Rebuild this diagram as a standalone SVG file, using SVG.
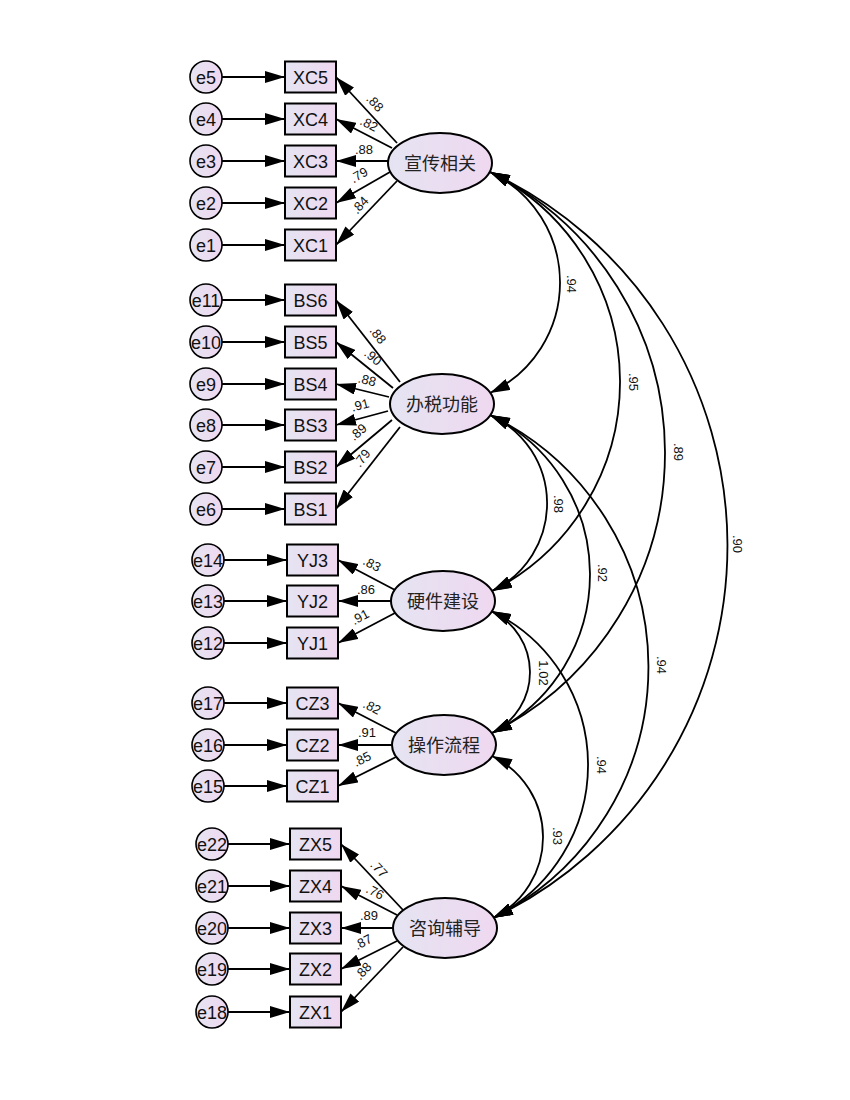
<svg xmlns="http://www.w3.org/2000/svg" width="850" height="1100" viewBox="0 0 850 1100">
<defs>
<linearGradient id="g" x1="0" y1="0" x2="1" y2="0">
<stop offset="0" stop-color="#e5e4f2"/>
<stop offset="1" stop-color="#efd8f0"/>
</linearGradient>
<marker id="ah" markerUnits="userSpaceOnUse" viewBox="0 0 20 12" markerWidth="20" markerHeight="12" refX="20" refY="6" orient="auto-start-reverse">
<path d="M0,0 L20,6 L0,12 z" fill="#000"/>
</marker>
<style>
.e{fill:url(#g);stroke:#000;stroke-width:1.6}
.b{fill:url(#g);stroke:#000;stroke-width:2}
.l{fill:url(#g);stroke:#000;stroke-width:2}
.t{font-family:"Liberation Sans",Arial,sans-serif;font-size:18px;text-anchor:middle;fill:#111}
.c{font-family:"Noto Sans CJK SC",sans-serif;font-size:18px;text-anchor:middle;fill:#222}
.n{font-family:"Liberation Sans",Arial,sans-serif;font-size:13px;text-anchor:middle;fill:#111}
.a{stroke:#000;stroke-width:1.8;fill:none;marker-end:url(#ah)}
.v{stroke:#000;stroke-width:1.8;fill:none;marker-start:url(#ah);marker-end:url(#ah)}
</style>
</defs>
<rect width="850" height="1100" fill="#fff"/>

<g id="connectors">
<!-- error arrows -->
<path class="a" d="M222,77H285"/><path class="a" d="M222,119H285"/><path class="a" d="M222,161H285"/><path class="a" d="M222,203H285"/><path class="a" d="M222,245H285"/>
<path class="a" d="M222,300H285"/><path class="a" d="M222,342H285"/><path class="a" d="M222,384H285"/><path class="a" d="M222,425H285"/><path class="a" d="M222,467H285"/><path class="a" d="M222,509H285"/>
<path class="a" d="M223,560H287"/><path class="a" d="M223,601H287"/><path class="a" d="M223,643H287"/>
<path class="a" d="M223,703H287"/><path class="a" d="M223,745H287"/><path class="a" d="M223,786H287"/>
<path class="a" d="M228,844H290"/><path class="a" d="M228,886H290"/><path class="a" d="M228,928H290"/><path class="a" d="M228,969H290"/><path class="a" d="M228,1012H290"/>
<!-- loadings -->
<path class="a" d="M397,143L336,77"/><path class="a" d="M392,148L336,119"/><path class="a" d="M388,161L336,161"/><path class="a" d="M390,172L336,203"/><path class="a" d="M397,181L336,245"/>
<path class="a" d="M400,382L336,300"/><path class="a" d="M393,388L336,342"/><path class="a" d="M389,397L336,384"/><path class="a" d="M388,411L336,425"/><path class="a" d="M392,420L336,467"/><path class="a" d="M400,427L336,509"/>
<path class="a" d="M395,590L338,560"/><path class="a" d="M392,601L338,601"/><path class="a" d="M395,613L338,643"/>
<path class="a" d="M396,733L338,703"/><path class="a" d="M392,745L338,745"/><path class="a" d="M396,757L338,786"/>
<path class="a" d="M403,910L341,844"/><path class="a" d="M397,915L341,886"/><path class="a" d="M393,928L341,928"/><path class="a" d="M397,941L341,969"/><path class="a" d="M403,947L341,1012"/>
<!-- covariances -->
<path class="v" d="M490,172A122.2,122.2 0 0 1 490,393"/>
<path class="v" d="M490,172A234.6,234.6 0 0 1 492,591"/>
<path class="v" d="M490,172A313.1,313.1 0 0 1 492,733"/>
<path class="v" d="M490,172A412.8,412.8 0 0 1 493,918"/>
<path class="v" d="M490,415A97.1,97.1 0 0 1 492,591"/>
<path class="v" d="M490,415A177.2,177.2 0 0 1 492,733"/>
<path class="v" d="M490,415A280,280 0 0 1 493,918"/>
<path class="v" d="M491,611A67.6,67.6 0 0 1 492,733"/>
<path class="v" d="M491,611A170.7,170.7 0 0 1 493,918"/>
<path class="v" d="M492,756A90.2,90.2 0 0 1 493,918"/>
<!-- loading labels -->
<text class="n" transform="translate(375,103) rotate(47)" y="4.5">.88</text>
<text class="n" transform="translate(369,124) rotate(27)" y="4.5">.82</text>
<text class="n" transform="translate(364,149)" y="4.5">.88</text>
<text class="n" transform="translate(359,175) rotate(-30)" y="4.5">.79</text>
<text class="n" transform="translate(360,205) rotate(-47)" y="4.5">.84</text>
<text class="n" transform="translate(378,335) rotate(52)" y="4.5">.88</text>
<text class="n" transform="translate(373,357) rotate(39)" y="4.5">.90</text>
<text class="n" transform="translate(367,380) rotate(14)" y="4.5">.88</text>
<text class="n" transform="translate(360,405) rotate(-15)" y="4.5">.91</text>
<text class="n" transform="translate(358,432) rotate(-40)" y="4.5">.89</text>
<text class="n" transform="translate(362,458) rotate(-52)" y="4.5">.79</text>
<text class="n" transform="translate(372,564) rotate(28)" y="4.5">.83</text>
<text class="n" transform="translate(366,589)" y="4.5">.86</text>
<text class="n" transform="translate(360,617) rotate(-28)" y="4.5">.91</text>
<text class="n" transform="translate(372,707) rotate(27)" y="4.5">.82</text>
<text class="n" transform="translate(367,732)" y="4.5">.91</text>
<text class="n" transform="translate(362,759) rotate(-27)" y="4.5">.85</text>
<text class="n" transform="translate(379,869) rotate(47)" y="4.5">.77</text>
<text class="n" transform="translate(375,892) rotate(27)" y="4.5">.76</text>
<text class="n" transform="translate(369,915)" y="4.5">.89</text>
<text class="n" transform="translate(363,942) rotate(-28)" y="4.5">.87</text>
<text class="n" transform="translate(363,971) rotate(-47)" y="4.5">.88</text>
<!-- covariance labels -->
<text class="n" transform="translate(571,284) rotate(90)" y="4.5">.94</text>
<text class="n" transform="translate(633,382) rotate(90)" y="4.5">.95</text>
<text class="n" transform="translate(678,452) rotate(90)" y="4.5">.89</text>
<text class="n" transform="translate(737,544) rotate(90)" y="4.5">.90</text>
<text class="n" transform="translate(558,504) rotate(90)" y="4.5">.98</text>
<text class="n" transform="translate(602,573) rotate(90)" y="4.5">.92</text>
<text class="n" transform="translate(661,665) rotate(90)" y="4.5">.94</text>
<text class="n" transform="translate(543,673) rotate(90)" y="4.5">1.02</text>
<text class="n" transform="translate(601,765) rotate(90)" y="4.5">.94</text>
<text class="n" transform="translate(557,836) rotate(90)" y="4.5">.93</text>
</g>

<!-- latent variables -->
<g id="F_xc"><ellipse class="l" cx="440" cy="163" rx="52" ry="30"/><text class="c" x="440" y="169.5">宣传相关</text></g>
<g id="F_bs"><ellipse class="l" cx="442" cy="404" rx="52" ry="30"/><text class="c" x="442" y="410.5">办税功能</text></g>
<g id="F_yj"><ellipse class="l" cx="443" cy="601" rx="52" ry="30"/><text class="c" x="443" y="607.5">硬件建设</text></g>
<g id="F_cz"><ellipse class="l" cx="444" cy="745" rx="52" ry="30"/><text class="c" x="444" y="751.5">操作流程</text></g>
<g id="F_zx"><ellipse class="l" cx="445" cy="928" rx="52" ry="30"/><text class="c" x="445" y="934.5">咨询辅导</text></g>

<!-- observed -->
<g id="XC5"><rect class="b" x="285" y="61.5" width="51" height="31"/><text class="t" x="310.5" y="83.5">XC5</text></g>
<g id="XC4"><rect class="b" x="285" y="103.5" width="51" height="31"/><text class="t" x="310.5" y="125.5">XC4</text></g>
<g id="XC3"><rect class="b" x="285" y="145.5" width="51" height="31"/><text class="t" x="310.5" y="167.5">XC3</text></g>
<g id="XC2"><rect class="b" x="285" y="187.5" width="51" height="31"/><text class="t" x="310.5" y="209.5">XC2</text></g>
<g id="XC1"><rect class="b" x="285" y="229.5" width="51" height="31"/><text class="t" x="310.5" y="251.5">XC1</text></g>
<g id="BS6"><rect class="b" x="285" y="284.5" width="51" height="31"/><text class="t" x="310.5" y="306.5">BS6</text></g>
<g id="BS5"><rect class="b" x="285" y="326.5" width="51" height="31"/><text class="t" x="310.5" y="348.5">BS5</text></g>
<g id="BS4"><rect class="b" x="285" y="368.5" width="51" height="31"/><text class="t" x="310.5" y="390.5">BS4</text></g>
<g id="BS3"><rect class="b" x="285" y="409.5" width="51" height="31"/><text class="t" x="310.5" y="431.5">BS3</text></g>
<g id="BS2"><rect class="b" x="285" y="451.5" width="51" height="31"/><text class="t" x="310.5" y="473.5">BS2</text></g>
<g id="BS1"><rect class="b" x="285" y="493.5" width="51" height="31"/><text class="t" x="310.5" y="515.5">BS1</text></g>
<g id="YJ3"><rect class="b" x="287" y="544.5" width="51" height="31"/><text class="t" x="312.5" y="566.5">YJ3</text></g>
<g id="YJ2"><rect class="b" x="287" y="585.5" width="51" height="31"/><text class="t" x="312.5" y="607.5">YJ2</text></g>
<g id="YJ1"><rect class="b" x="287" y="627.5" width="51" height="31"/><text class="t" x="312.5" y="649.5">YJ1</text></g>
<g id="CZ3"><rect class="b" x="287" y="687.5" width="51" height="31"/><text class="t" x="312.5" y="709.5">CZ3</text></g>
<g id="CZ2"><rect class="b" x="287" y="729.5" width="51" height="31"/><text class="t" x="312.5" y="751.5">CZ2</text></g>
<g id="CZ1"><rect class="b" x="287" y="770.5" width="51" height="31"/><text class="t" x="312.5" y="792.5">CZ1</text></g>
<g id="ZX5"><rect class="b" x="290" y="828.5" width="51" height="31"/><text class="t" x="315.5" y="850.5">ZX5</text></g>
<g id="ZX4"><rect class="b" x="290" y="870.5" width="51" height="31"/><text class="t" x="315.5" y="892.5">ZX4</text></g>
<g id="ZX3"><rect class="b" x="290" y="912.5" width="51" height="31"/><text class="t" x="315.5" y="934.5">ZX3</text></g>
<g id="ZX2"><rect class="b" x="290" y="953.5" width="51" height="31"/><text class="t" x="315.5" y="975.5">ZX2</text></g>
<g id="ZX1"><rect class="b" x="290" y="996.5" width="51" height="31"/><text class="t" x="315.5" y="1018.5">ZX1</text></g>

<!-- errors -->
<g id="e5"><circle class="e" cx="206" cy="77" r="16"/><text class="t" x="206" y="83.5">e5</text></g>
<g id="e4"><circle class="e" cx="206" cy="119" r="16"/><text class="t" x="206" y="125.5">e4</text></g>
<g id="e3"><circle class="e" cx="206" cy="161" r="16"/><text class="t" x="206" y="167.5">e3</text></g>
<g id="e2"><circle class="e" cx="206" cy="203" r="16"/><text class="t" x="206" y="209.5">e2</text></g>
<g id="e1"><circle class="e" cx="206" cy="245" r="16"/><text class="t" x="206" y="251.5">e1</text></g>
<g id="e11"><circle class="e" cx="206" cy="300" r="16"/><text class="t" x="206" y="306.5">e11</text></g>
<g id="e10"><circle class="e" cx="206" cy="342" r="16"/><text class="t" x="206" y="348.5">e10</text></g>
<g id="e9"><circle class="e" cx="206" cy="384" r="16"/><text class="t" x="206" y="390.5">e9</text></g>
<g id="e8"><circle class="e" cx="206" cy="425" r="16"/><text class="t" x="206" y="431.5">e8</text></g>
<g id="e7"><circle class="e" cx="206" cy="467" r="16"/><text class="t" x="206" y="473.5">e7</text></g>
<g id="e6"><circle class="e" cx="206" cy="509" r="16"/><text class="t" x="206" y="515.5">e6</text></g>
<g id="e14"><circle class="e" cx="208" cy="560" r="16"/><text class="t" x="208" y="566.5">e14</text></g>
<g id="e13"><circle class="e" cx="208" cy="601" r="16"/><text class="t" x="208" y="607.5">e13</text></g>
<g id="e12"><circle class="e" cx="208" cy="643" r="16"/><text class="t" x="208" y="649.5">e12</text></g>
<g id="e17"><circle class="e" cx="208" cy="703" r="16"/><text class="t" x="208" y="709.5">e17</text></g>
<g id="e16"><circle class="e" cx="208" cy="745" r="16"/><text class="t" x="208" y="751.5">e16</text></g>
<g id="e15"><circle class="e" cx="208" cy="786" r="16"/><text class="t" x="208" y="792.5">e15</text></g>
<g id="e22"><circle class="e" cx="212" cy="844" r="16"/><text class="t" x="212" y="850.5">e22</text></g>
<g id="e21"><circle class="e" cx="212" cy="886" r="16"/><text class="t" x="212" y="892.5">e21</text></g>
<g id="e20"><circle class="e" cx="212" cy="928" r="16"/><text class="t" x="212" y="934.5">e20</text></g>
<g id="e19"><circle class="e" cx="212" cy="969" r="16"/><text class="t" x="212" y="975.5">e19</text></g>
<g id="e18"><circle class="e" cx="212" cy="1012" r="16"/><text class="t" x="212" y="1018.5">e18</text></g>
</svg>
